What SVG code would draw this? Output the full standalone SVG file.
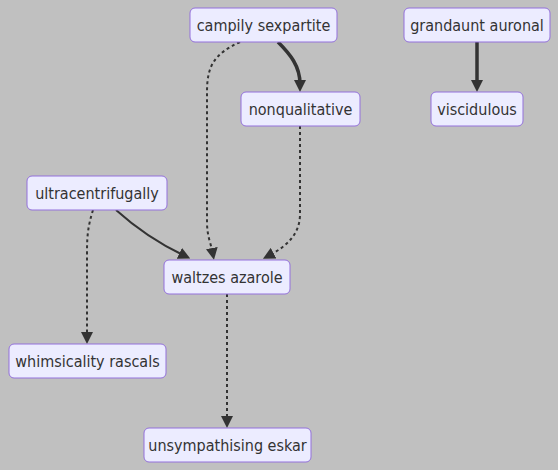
<svg xmlns="http://www.w3.org/2000/svg" width="558" height="470" viewBox="0 0 558 470">
<style>
.bg{fill:#c0c0c0}
.node rect{fill:#ececff;stroke:#9370db;stroke-width:1}
.node text{font-family:"DejaVu Sans Condensed","DejaVu Sans",Verdana,sans-serif;font-stretch:condensed;font-size:16px;fill:#333;text-anchor:middle}
.e{fill:none;stroke:#333}
.solid{stroke-width:2}
.thick{stroke-width:3.5}
.dot{stroke-width:2;stroke-dasharray:3 3}
</style>
<defs>
<marker id="ah" viewBox="0 0 12 12" refX="4" refY="6" markerWidth="12" markerHeight="12" markerUnits="userSpaceOnUse" orient="auto">
<path d="M0,0 L12,6 L0,12 z" fill="#333"/>
</marker>
</defs>
<rect class="bg" x="0" y="0" width="558" height="470"/>
<g id="connectors">
<path class="e thick" d="M278,42 C290,54 300,66 300,84" marker-end="url(#ah)"/>
<path class="e dot" d="M240,42 C214,54 207,66 207,92 L207,222 C207,236 211,244 212.5,252" marker-end="url(#ah)"/>
<path class="e dot" d="M300,126 L300,214 C300,234 287,246 270,255" marker-end="url(#ah)"/>
<path class="e solid" d="M116,210 C136,228 160,244 183,255" marker-end="url(#ah)"/>
<path class="e dot" d="M93,210 C88,226 87,236 87,252 L87,336" marker-end="url(#ah)"/>
<path class="e dot" d="M227,294 L227,420" marker-end="url(#ah)"/>
<path class="e thick" d="M477,42 L477,84" marker-end="url(#ah)"/>
</g>
<g id="campily" class="node"><rect x="190" y="8" width="147" height="34" rx="5"/><text x="263.5" y="31">campily sexpartite</text></g>
<g id="nonqualitative" class="node"><rect x="241" y="92" width="119" height="34" rx="5"/><text x="300.5" y="115">nonqualitative</text></g>
<g id="grandaunt" class="node"><rect x="404" y="8" width="146" height="34" rx="5"/><text x="477" y="31">grandaunt auronal</text></g>
<g id="viscidulous" class="node"><rect x="431" y="92" width="92" height="34" rx="5"/><text x="477" y="115">viscidulous</text></g>
<g id="ultracentrifugally" class="node"><rect x="27" y="176" width="140" height="34" rx="5"/><text x="97" y="199">ultracentrifugally</text></g>
<g id="waltzes" class="node"><rect x="164" y="260" width="126" height="34" rx="5"/><text x="227" y="283">waltzes azarole</text></g>
<g id="whimsicality" class="node"><rect x="9" y="344" width="157" height="34" rx="5"/><text x="87.5" y="367">whimsicality rascals</text></g>
<g id="unsympathising" class="node"><rect x="144" y="428" width="167" height="34" rx="5"/><text x="227.5" y="451">unsympathising eskar</text></g>
</svg>
